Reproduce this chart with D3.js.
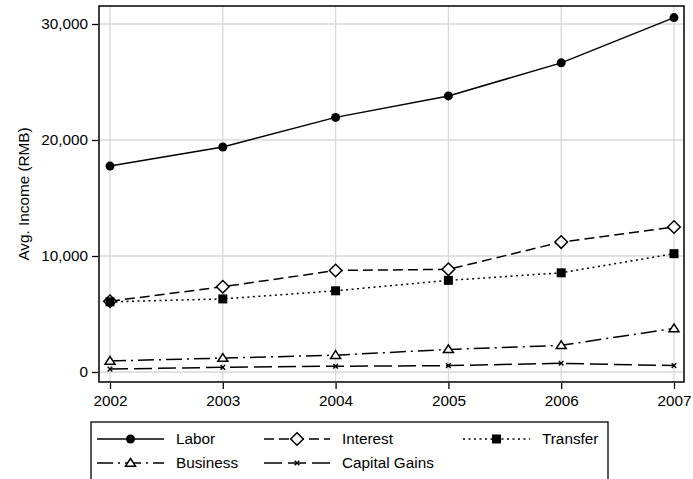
<!DOCTYPE html>
<html><head><meta charset="utf-8">
<script src="https://cdn.jsdelivr.net/npm/d3@7"></script>
<style>body{margin:0;background:#fff;} svg{display:block;font-family:"Liberation Sans",Arial,sans-serif;}</style>
</head><body>
<script>
const years = [2002, 2003, 2004, 2005, 2006, 2007];
const labor = [17750, 19400, 21950, 23800, 26650, 30550];
const interest = [6100, 7350, 8750, 8850, 11200, 12500];
const transfer = [6050, 6300, 7000, 7900, 8550, 10200];
const business = [950, 1200, 1450, 1950, 2300, 3750];
const capitalGains = [250, 400, 500, 550, 750, 550];
const yTicks = [0, 10000, 20000, 30000];
const seriesNames = ["Labor", "Interest", "Transfer", "Business", "Capital Gains"];

const W = 693, H = 479;
const FS = 15.3;
const svg = d3.select("body").append("svg").attr("width", W).attr("height", H);

const x = d3.scaleLinear().domain([2002, 2007]).range([110, 674]);
const y = d3.scaleLinear().domain([0, 30000]).range([372, 24]);
const L = 99, R = 684, T = 6, B = 382;

// gridlines
const g = svg.append("g");
g.selectAll(".vg").data(years).enter().append("line")
  .attr("x1", d => x(d)).attr("x2", d => x(d)).attr("y1", T).attr("y2", B)
  .attr("stroke", "#d9d9d9").attr("stroke-width", 1.3);
g.selectAll(".hg").data(yTicks).enter().append("line")
  .attr("x1", L).attr("x2", R).attr("y1", d => y(d)).attr("y2", d => y(d))
  .attr("stroke", "#d9d9d9").attr("stroke-width", 1.3);

// axes
const yAxis = d3.axisLeft(y).tickValues(yTicks).tickSize(6).tickPadding(4).tickFormat(d3.format(",")).tickSizeOuter(0);
const ya = svg.append("g").attr("transform", `translate(${L - 1},0)`).call(yAxis);
ya.select(".domain").remove();
ya.selectAll("text").attr("font-size", FS).attr("fill", "#000").style("font-family", "Liberation Sans, Arial, sans-serif");
ya.selectAll("line").attr("stroke-width", 1.3);

const xAxis = d3.axisBottom(x).tickValues(years).tickSize(6).tickPadding(6).tickFormat(d3.format("d")).tickSizeOuter(0);
const xa = svg.append("g").attr("transform", `translate(0,${B + 1})`).call(xAxis);
xa.select(".domain").remove();
xa.selectAll("text").attr("font-size", FS).attr("fill", "#000").style("font-family", "Liberation Sans, Arial, sans-serif");
xa.selectAll("line").attr("stroke-width", 1.3);

svg.append("rect").attr("x", L).attr("y", T).attr("width", R - L).attr("height", B - T)
  .attr("fill", "none").attr("stroke", "#000").attr("stroke-width", 1.5);

svg.append("text").attr("transform", `translate(29,${(T + B) / 2}) rotate(-90)`)
  .attr("text-anchor", "middle").attr("font-size", FS).text("Avg. Income (RMB)");

const styles = [
  {data: labor, dash: null, marker: "circle"},
  {data: interest, dash: "10,5", marker: "diamond"},
  {data: transfer, dash: "2,3.5", marker: "square"},
  {data: business, dash: "16,5,2,5", marker: "triangle"},
  {data: capitalGains, dash: "18,6", marker: "x"}
];

const line = d3.line().x((d, i) => x(years[i])).y(d => y(d));

function drawMarker(sel, type, cx, cy) {
  if (type === "circle") {
    sel.append("circle").attr("cx", cx).attr("cy", cy).attr("r", 4.5).attr("fill", "#000");
  } else if (type === "diamond") {
    const s = 6.3;
    sel.append("path").attr("d", `M${cx},${cy - s}L${cx + s},${cy}L${cx},${cy + s}L${cx - s},${cy}Z`)
      .attr("fill", "#fff").attr("stroke", "#000").attr("stroke-width", 1.5);
  } else if (type === "square") {
    sel.append("rect").attr("x", cx - 4.5).attr("y", cy - 4.5).attr("width", 9).attr("height", 9).attr("fill", "#000");
  } else if (type === "triangle") {
    sel.append("path").attr("d", `M${cx},${cy - 4.5}L${cx + 5},${cy + 3.2}L${cx - 5},${cy + 3.2}Z`)
      .attr("fill", "#fff").attr("stroke", "#000").attr("stroke-width", 1.5);
  } else if (type === "x") {
    const s = 2.3;
    sel.append("path").attr("d", `M${cx - s},${cy - s}L${cx + s},${cy + s}M${cx - s},${cy + s}L${cx + s},${cy - s}`)
      .attr("stroke", "#000").attr("stroke-width", 1.4);
  }
}

styles.forEach(s => {
  svg.append("path").datum(s.data).attr("d", line).attr("fill", "none").attr("stroke", "#000")
    .attr("stroke-width", 1.5).attr("stroke-dasharray", s.dash);
  const mg = svg.append("g");
  s.data.forEach((v, i) => drawMarker(mg, s.marker, x(years[i]), y(v)));
});

// legend
svg.append("rect").attr("x", 91).attr("y", 422).attr("width", 517).attr("height", 58)
  .attr("fill", "#fff").attr("stroke", "#000").attr("stroke-width", 1.3);
const legPos = [
  {x0: 97, x1: 164, tx: 176, y: 439},
  {x0: 264, x1: 330, tx: 342, y: 439},
  {x0: 463, x1: 530, tx: 542, y: 439},
  {x0: 97, x1: 164, tx: 176, y: 463},
  {x0: 264, x1: 330, tx: 342, y: 463}
];
styles.forEach((s, i) => {
  const p = legPos[i];
  svg.append("line").attr("x1", p.x0).attr("x2", p.x1).attr("y1", p.y).attr("y2", p.y)
    .attr("stroke", "#000").attr("stroke-width", 1.5).attr("stroke-dasharray", s.dash);
  drawMarker(svg, s.marker, (p.x0 + p.x1) / 2, p.y);
  svg.append("text").attr("x", p.tx).attr("y", p.y).attr("dy", "0.35em").attr("font-size", FS).text(seriesNames[i]);
});
</script>
</body></html>
